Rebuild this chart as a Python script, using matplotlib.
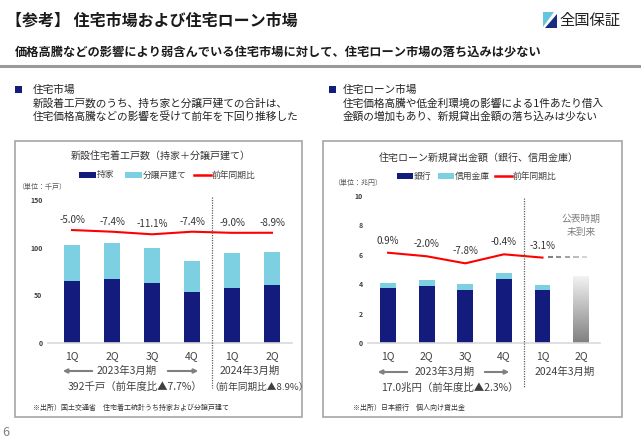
import numpy as np
import matplotlib
matplotlib.use('Agg')
import matplotlib.pyplot as plt
from matplotlib.patches import Rectangle, Polygon
from matplotlib.lines import Line2D

plt.rcParams['font.family'] = ['Noto Sans CJK JP', 'DejaVu Sans']

# ---- data ----
quarters = ['1Q', '2Q', '3Q', '4Q', '1Q', '2Q']

# 新設住宅着工戸数 (千戸)
mochiie = [65, 67, 63, 53, 58, 61]
bunjo = [38, 38, 37, 33, 36, 34]
housing_yoy = [-5.0, -7.4, -11.1, -7.4, -9.0, -8.9]

# 住宅ローン新規貸出金額 (兆円)
bank = [3.72, 3.86, 3.60, 4.33, 3.58]
shinkin = [0.36, 0.43, 0.41, 0.41, 0.37]
loan_yoy = [0.9, -2.0, -7.8, -0.4, -3.1]
pending_height = 4.55   # 公表時期未到来 (placeholder bar)

NAVY = '#131c7c'
LBLUE = '#7dd0e1'
RED = '#ff0000'
GREY_TXT = '#404040'

W, H = 641, 437
fig = plt.figure(figsize=(W / 100, H / 100), dpi=100)
fig.patch.set_facecolor('white')


def fx(x):
    return x / W


def fy(y):
    return 1 - y / H


def ftext(x, y, s, **kw):
    kw.setdefault('va', 'center')
    fig.text(fx(x), fy(y), s, **kw)


# ---- header ----
ftext(6, 21, '【参考】 住宅市場および住宅ローン市場', fontsize=11.5, fontweight='bold', color='#1a1a1a')
ftext(15, 52, '価格高騰などの影響により弱含んでいる住宅市場に対して、住宅ローン市場の落ち込みは少ない',
      fontsize=8.8, fontweight='bold', color='#1a1a1a')
fig.add_artist(Line2D([0, 1], [fy(65.5), fy(65.5)], color='#9a9a9a', lw=2.2))

# logo
fig.add_artist(Polygon([(fx(543), fy(12)), (fx(554), fy(12)), (fx(543), fy(27))],
                       closed=True, color='#62c6dd', lw=0))
fig.add_artist(Polygon([(fx(556.5), fy(13.5)), (fx(556.5), fy(28)), (fx(545), fy(28))],
                       closed=True, color='#1a2a80', lw=0))
ftext(559, 20, '全国保証', fontsize=11, color='#222222')

# bullets
for bx, tx, lines in [(15, 33, ['住宅市場',
                                 '新設着工戸数のうち、持ち家と分譲戸建ての合計は、',
                                 '住宅価格高騰などの影響を受けて前年を下回り推移した']),
                      (329, 343, ['住宅ローン市場',
                                  '住宅価格高騰や低金利環境の影響による1件あたり借入',
                                  '金額の増加もあり、新規貸出金額の落ち込みは少ない'])]:
    fig.add_artist(Rectangle((fx(bx), fy(93)), 7 / W, 7 / H, color=NAVY, lw=0))
    for i, s in enumerate(lines):
        ftext(tx, 90 + i * 13.5, s, fontsize=7.7, color='#222222')

# boxes
for x0, x1 in [(15, 302), (323, 622)]:
    fig.add_artist(Rectangle((fx(x0), fy(417)), (x1 - x0) / W, (417 - 141) / H,
                             fill=False, edgecolor='#a6a6a6', lw=1.2))

ftext(2, 432, '6', fontsize=9, color='#808080')


def legend_row(items, y):
    for x0, x1, kind, color, label in items:
        if kind == 'patch':
            fig.add_artist(Rectangle((fx(x0), fy(y + 3)), (x1 - x0) / W, 6 / H, color=color, lw=0))
        else:
            fig.add_artist(Line2D([fx(x0), fx(x1)], [fy(y), fy(y)], color=color, lw=1.8))
        ftext(x1 + 1, y, label, fontsize=6.3, color=GREY_TXT)


def setup_axes(ax, xl, ylim, yticks):
    ax.set_xlim(*xl)
    ax.set_ylim(*ylim)
    ax.set_yticks(yticks)
    ax.set_yticklabels([str(t) for t in yticks], fontsize=5, fontweight='bold', color=GREY_TXT)
    ax.set_xticks(range(len(quarters)))
    ax.set_xticklabels(quarters, fontsize=7.5, color=GREY_TXT)
    ax.tick_params(length=0)
    ax.tick_params(axis='x', pad=6)
    ax.tick_params(axis='y', pad=4)
    for sp in ['top', 'right', 'left']:
        ax.spines[sp].set_visible(False)
    ax.spines['bottom'].set_color('#d9d9d9')
    ax.spines['bottom'].set_linewidth(1.2)
    ax.patch.set_alpha(0)


def arrows(xa, xb, xc, xd, y):
    for tail, tip in [(xb, xa), (xc, xd)]:
        fig.add_artist(matplotlib.patches.FancyArrowPatch(
            (fx(tail), fy(y)), (fx(tip), fy(y)), transform=fig.transFigure,
            arrowstyle='-|>', mutation_scale=6, color='#808080', lw=1.5))


# ---- left chart: 新設住宅着工戸数 ----
ftext(161, 157, '新設住宅着工戸数（持家＋分譲戸建て）', fontsize=7.2, ha='center', color='#333333')
legend_row([(79, 96, 'patch', NAVY, '持家'),
            (125, 142, 'patch', LBLUE, '分譲戸建て'),
            (194, 211, 'line', RED, '前年同期比')], 175)
ftext(17, 187, '（単位：千戸）', fontsize=5, color='#595959')

axl = fig.add_axes([fx(48), fy(343), (292 - 48) / W, (343 - 200) / H])
x = np.arange(len(quarters))
axl.bar(x, mochiie, width=0.4, color=NAVY, zorder=2)
axl.bar(x, bunjo, width=0.4, bottom=mochiie, color=LBLUE, zorder=2)
setup_axes(axl, (-0.6, 5.5), (0, 150), [0, 50, 100, 150])

axl2 = axl.twinx()
axl2.set_ylim(-166.4, 37.9)
axl2.plot(x, housing_yoy, color=RED, lw=1.5)
for xi, v in zip(x, housing_yoy):
    axl2.annotate(f'{v:.1f}%', (xi, v), xytext=(0, 10), textcoords='offset pixels',
                  ha='center', va='center', fontsize=7, color='#333333')
axl2.axis('off')

fig.add_artist(Line2D([fx(212), fx(212)], [fy(197), fy(388)], color='#606060',
                      lw=0.9, linestyle=(0, (1, 1))))
ftext(127, 371, '2023年3月期', fontsize=7.5, ha='center', color=GREY_TXT)
arrows(60, 95, 165, 201, 371)
ftext(135, 387, '392千戸（前年度比▲7.7%）', fontsize=7.5, ha='center', color=GREY_TXT)
ftext(250, 371, '2024年3月期', fontsize=7.5, ha='center', color=GREY_TXT)
ftext(259, 387, '（前年同期比▲8.9%）', fontsize=6.9, ha='center', color=GREY_TXT)
ftext(33, 408, '※出所）国土交通省　住宅着工統計うち持家および分譲戸建て', fontsize=5, color='#333333')

# ---- right chart: 住宅ローン新規貸出金額 ----
ftext(479, 158, '住宅ローン新規貸出金額（銀行、信用金庫）', fontsize=7.2, ha='center', color='#333333')
legend_row([(397, 413, 'patch', NAVY, '銀行'),
            (438, 454, 'patch', LBLUE, '信用金庫'),
            (495, 512, 'line', RED, '前年同期比')], 176)
ftext(333, 183, '（単位：兆円）', fontsize=5, color='#595959')

axr = fig.add_axes([fx(368), fy(343), (600 - 368) / W, (343 - 196) / H])
xr = np.arange(len(bank))
bw = 0.41
axr.bar(xr, bank, width=bw, color=NAVY, zorder=2)
axr.bar(xr, shinkin, width=bw, bottom=bank, color=LBLUE, zorder=2)
grad = np.linspace(0.95, 0.5, 256).reshape(-1, 1)
axr.imshow(grad, cmap='gray', vmin=0, vmax=1, aspect='auto', zorder=2,
           extent=[5 - bw / 2, 5 + bw / 2, 0, pending_height])
setup_axes(axr, (-0.52, 5.49), (0, 10), [0, 2, 4, 6, 8, 10])

axr2 = axr.twinx()
axr2.set_ylim(-73.1, 47.4)
axr2.plot(xr, loan_yoy, color=RED, lw=1.5)
for xi, v in zip(xr, loan_yoy):
    axr2.annotate(f'{v:.1f}%', (xi, v), xytext=(0, 12), textcoords='offset pixels',
                  ha='center', va='center', fontsize=7, color='#333333')
# fading dashed continuation for the unpublished quarter
dash_x = np.linspace(4.13, 5.25, 6)
dash_c = ['#7f7f7f', '#8f8f8f', '#a5a5a5', '#bdbdbd', '#d5d5d5']
for i in range(5):
    x0 = dash_x[i]
    x1 = x0 + (dash_x[1] - dash_x[0]) * 0.6
    axr2.plot([x0, x1], [loan_yoy[-1] + 0.5] * 2, color=dash_c[i], lw=1.5, solid_capstyle='butt')
axr2.set_xlim(-0.52, 5.49)
axr2.axis('off')
axr.text(5, 8.0, '公表時期\n未到来', ha='center', va='center', fontsize=7,
         color='#7f7f7f', linespacing=1.3)

fig.add_artist(Line2D([fx(523.5), fx(523.5)], [fy(198), fy(388)], color='#606060',
                      lw=0.9, linestyle=(0, (1, 1))))
ftext(445, 372, '2023年3月期', fontsize=7.5, ha='center', color=GREY_TXT)
arrows(375, 410, 482, 512, 372)
ftext(450, 388, '17.0兆円（前年度比▲2.3%）', fontsize=7.5, ha='center', color=GREY_TXT)
ftext(565, 372, '2024年3月期', fontsize=7.5, ha='center', color=GREY_TXT)
ftext(353, 408, '※出所）日本銀行　個人向け貸出金', fontsize=5, color='#333333')

fig.savefig('out.png', dpi=100)
